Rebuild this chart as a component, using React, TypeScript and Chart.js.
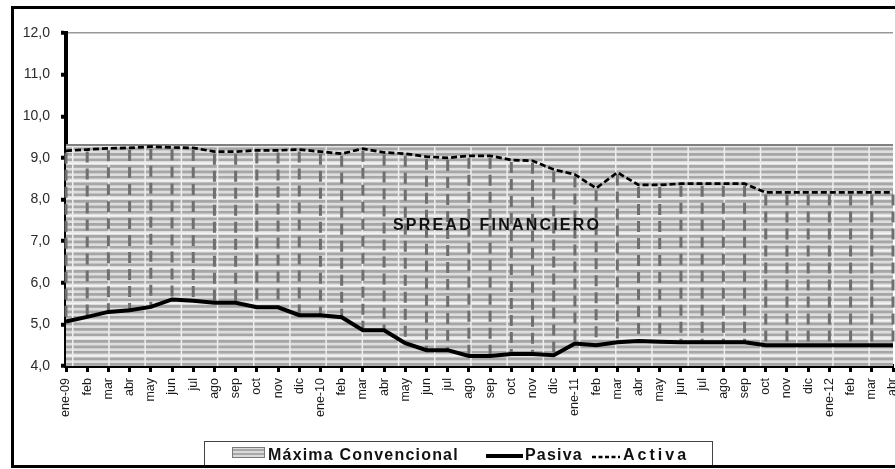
import React, { useEffect, useRef } from "react";
import { Chart, registerables } from "chart.js";

Chart.register(...registerables);

const CANVAS_W = 920;
const CANVAS_H = 469;

const categories = [
  "ene-09", "feb", "mar", "abr", "may", "jun", "jul", "ago", "sep", "oct", "nov", "dic",
  "ene-10", "feb", "mar", "abr", "may", "jun", "jul", "ago", "sep", "oct", "nov", "dic",
  "ene-11", "feb", "mar", "abr", "may", "jun", "jul", "ago", "sep", "oct", "nov", "dic",
  "ene-12", "feb", "mar", "abr",
];

const maximaConvencional = [
  9.31, 9.31, 9.31, 9.31, 9.31, 9.31, 9.31, 9.31, 9.31, 9.31, 9.31, 9.31,
  9.31, 9.31, 9.31, 9.31, 9.31, 9.31, 9.31, 9.31, 9.31, 9.31, 9.31, 9.31,
  9.31, 9.31, 9.31, 9.31, 9.31, 9.31, 9.31, 9.31, 9.31, 9.31, 9.31, 9.31,
  9.31, 9.31, 9.31, 9.31,
];

const pasiva = [
  5.07, 5.18, 5.30, 5.34, 5.42, 5.60, 5.57, 5.52, 5.52, 5.41, 5.41, 5.22,
  5.22, 5.17, 4.86, 4.86, 4.55, 4.38, 4.38, 4.24, 4.24, 4.29, 4.29, 4.26,
  4.54, 4.50, 4.57, 4.60, 4.58, 4.57, 4.57, 4.57, 4.57, 4.50, 4.50, 4.50,
  4.50, 4.50, 4.50, 4.50,
];

const activa = [
  9.17, 9.20, 9.23, 9.24, 9.27, 9.25, 9.24, 9.15, 9.15, 9.18, 9.18, 9.20,
  9.15, 9.10, 9.22, 9.13, 9.10, 9.03, 9.00, 9.05, 9.05, 8.95, 8.93, 8.72,
  8.60, 8.27, 8.65, 8.35, 8.35, 8.38, 8.38, 8.38, 8.38, 8.17, 8.17, 8.17,
  8.17, 8.17, 8.17, 8.17,
];

const seriesLabels = ["Máxima Convencional", "Pasiva", "Activa"];
const annotationText = "SPREAD FINANCIERO";

const FONT = "'Liberation Sans', Arial, sans-serif";

function makePattern(ctx: CanvasRenderingContext2D) {
  const c = document.createElement("canvas");
  c.width = CANVAS_W;
  c.height = CANVAS_H;
  const g = c.getContext("2d")!;
  g.fillStyle = "#dedede";
  g.fillRect(0, 0, CANVAS_W, CANVAS_H);
  const top = 145;
  const P = 17.5;
  for (let y = top - P * 12; y < CANVAS_H; y += P) {
    g.fillStyle = "#a6a6a6";
    g.fillRect(0, y + 2.5, CANVAS_W, 2.8);
    g.fillRect(0, y + 8, CANVAS_W, 2.8);
    g.fillRect(0, y + 13.5, CANVAS_W, 2.5);
    g.fillStyle = "#f4f4f4";
    g.fillRect(0, y, CANVAS_W, 1.5);
  }
  g.fillStyle = "#eeeeee";
  for (let x = 72 - 36.2 * 3; x < CANVAS_W; x += 36.2) {
    g.fillRect(x, 0, 1.5, CANVAS_H);
  }
  return ctx.createPattern(c, "no-repeat")!;
}

const overlayPlugin = {
  id: "overlay",
  afterDatasetDraw(chart: any, args: any) {
    if (args.index !== 2) return;
    const { ctx, scales } = chart;
    const xs = scales.x;
    const ys = scales.y;
    ctx.save();
    ctx.strokeStyle = "#6f6f6f";
    ctx.lineWidth = 3;
    ctx.setLineDash([11, 6]);
    for (let i = 0; i < categories.length; i++) {
      const x = xs.getPixelForValue(i);
      const y1 = ys.getPixelForValue(activa[i]);
      const y2 = ys.getPixelForValue(pasiva[i]);
      ctx.beginPath();
      ctx.moveTo(x, y1 + 2);
      ctx.lineTo(x, y2);
      ctx.stroke();
    }
    ctx.restore();
  },
  afterDraw(chart: any) {
    const { ctx } = chart;
    ctx.save();
    // annotation
    ctx.fillStyle = "#111";
    ctx.font = `bold 16px ${FONT}`;
    (ctx as any).letterSpacing = "2.2px";
    ctx.textBaseline = "alphabetic";
    ctx.textAlign = "left";
    ctx.fillText(annotationText, 393, 230);

    // legend box
    (ctx as any).letterSpacing = "0px";
    ctx.lineWidth = 1;
    ctx.strokeStyle = "#444";
    ctx.strokeRect(204.5, 441.5, 508, 25);

    // swatch
    ctx.fillStyle = "#dadada";
    ctx.fillRect(232, 447, 33, 11);
    ctx.fillStyle = "#a8a8a8";
    ctx.fillRect(232, 449, 33, 2);
    ctx.fillRect(232, 453, 33, 2);
    ctx.strokeStyle = "#7a7a7a";
    ctx.strokeRect(232.5, 447.5, 32, 10);

    ctx.fillStyle = "#111";
    ctx.font = `bold 16px ${FONT}`;
    (ctx as any).letterSpacing = "1.2px";
    ctx.fillText(seriesLabels[0], 268, 460);

    ctx.strokeStyle = "#000";
    ctx.lineWidth = 4;
    ctx.beginPath();
    ctx.moveTo(486, 456);
    ctx.lineTo(523, 456);
    ctx.stroke();
    ctx.fillText(seriesLabels[1], 525, 460);

    ctx.lineWidth = 2.5;
    ctx.setLineDash([4, 2.5]);
    ctx.beginPath();
    ctx.moveTo(592, 457);
    ctx.lineTo(620, 457);
    ctx.stroke();
    ctx.setLineDash([]);
    (ctx as any).letterSpacing = "3px";
    ctx.fillText(seriesLabels[2], 623, 460);

    // outer frame
    (ctx as any).letterSpacing = "0px";
    ctx.strokeStyle = "#000";
    ctx.lineWidth = 3;
    ctx.strokeRect(12.5, 7.5, 900, 459);
    ctx.restore();
  },
};

export default function App() {
  const ref = useRef<HTMLCanvasElement>(null);

  useEffect(() => {
    const canvas = ref.current!;
    const ctx = canvas.getContext("2d")!;
    const pattern = makePattern(ctx);
    const chart = new Chart(canvas, {
      type: "line",
      data: {
        labels: categories,
        datasets: [
          {
            label: seriesLabels[1],
            data: pasiva,
            borderColor: "#000",
            borderWidth: 4,
            fill: false,
            pointRadius: 0,
            order: 1,
          },
          {
            label: seriesLabels[2],
            data: activa,
            borderColor: "#000",
            borderWidth: 2.7,
            borderDash: [6, 3],
            fill: false,
            pointRadius: 0,
            order: 2,
          },
          {
            label: seriesLabels[0],
            data: maximaConvencional,
            borderColor: "#808080",
            borderWidth: 2,
            backgroundColor: pattern,
            fill: "start",
            pointRadius: 0,
            order: 3,
          },
        ],
      },
      options: {
        responsive: false,
        animation: false,
        layout: {
          padding: { left: 0, top: 33, right: CANVAS_W - 893, bottom: CANVAS_H - 366 - 60 },
        },
        plugins: {
          legend: { display: false },
          tooltip: { enabled: false },
        },
        scales: {
          x: {
            type: "category",
            offset: false,
            grid: {
              display: true,
              drawOnChartArea: false,
              tickLength: 6,
              tickWidth: 3,
              tickColor: "#000",
              offset: false,
            },
            border: { display: true, color: "#000", width: 4 },
            ticks: {
              autoSkip: false,
              maxRotation: 90,
              minRotation: 90,
              padding: 6,
              color: "#1a1a1a",
              font: { family: FONT, size: 12.5 },
            },
            afterFit: (s: any) => {
              s.height = 60;
            },
          },
          y: {
            min: 4,
            max: 12,
            ticks: {
              stepSize: 1,
              padding: 11,
              color: "#2a2a2a",
              font: { family: FONT, size: 14 },
              callback: (v: any) => Number(v).toFixed(1).replace(".", ","),
            },
            grid: {
              color: (c: any) => (c.tick && c.tick.value === 12 ? "#999" : "rgba(0,0,0,0)"),
              lineWidth: 1.5,
              tickColor: "#000",
              tickWidth: 4,
              tickLength: 5,
            },
            border: { display: true, color: "#000", width: 4 },
            afterFit: (s: any) => {
              s.width = 66;
            },
          },
        },
      } as any,
      plugins: [overlayPlugin],
    });
    return () => chart.destroy();
  }, []);

  return (
    <div
      style={{
        position: "absolute",
        left: 0,
        top: 0,
        width: 895,
        height: 469,
        overflow: "hidden",
        background: "#fff",
      }}
    >
      <canvas
        ref={ref}
        width={CANVAS_W}
        height={CANVAS_H}
        style={{ display: "block", width: CANVAS_W, height: CANVAS_H }}
      />
    </div>
  );
}
